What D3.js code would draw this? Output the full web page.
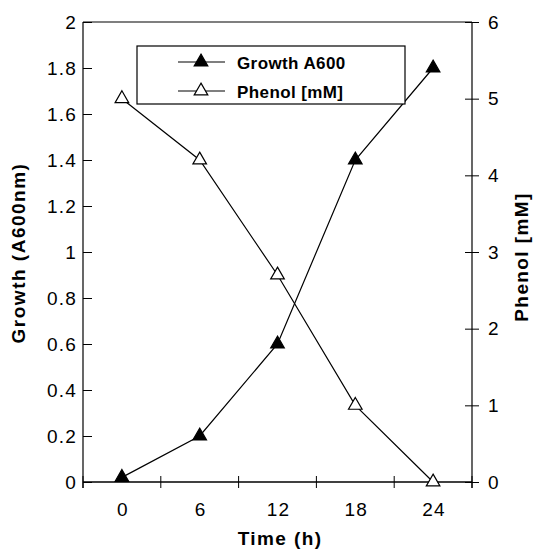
<!DOCTYPE html>
<html>
<head>
<meta charset="utf-8">
<script src="https://cdn.jsdelivr.net/npm/d3@7"></script>
<style>
body { margin: 0; background: #fff; }
svg { font-family: "Liberation Sans", Arial, sans-serif; }
</style>
</head>
<body>
<svg id="chart" width="535" height="551"></svg>
<script>
// data
var times = ['0', '6', '12', '18', '24'];
var growth = [0.02, 0.2, 0.6, 1.4, 1.8];
var phenol = [5.0, 4.2, 2.7, 1.0, 0];
var leftTicks = [0, 0.2, 0.4, 0.6, 0.8, 1, 1.2, 1.4, 1.6, 1.8, 2];
var rightTicks = [0, 1, 2, 3, 4, 5, 6];

var L = 83, R = 472, T = 22, B = 482;

var svg = d3.select('#chart');

var xs = d3.scaleBand().domain(times).range([L, R]);
var yl = d3.scaleLinear().domain([0, 2]).range([B, T]);
var yr = d3.scaleLinear().domain([0, 6]).range([B, T]);

var tickFont = function(sel) {
    sel.style('font-size', '19px').style('letter-spacing', '1.2px').attr('fill', '#000');
};
var titleFont = 'bold 19px "Liberation Sans", Arial, sans-serif';

// frame
svg.append('line').attr('x1', L).attr('x2', R).attr('y1', T).attr('y2', T)
    .attr('stroke', '#000').attr('stroke-width', 1.2);

// left axis
var gl = svg.append('g').attr('transform', 'translate(' + L + ',0)')
    .call(d3.axisLeft(yl).tickValues(leftTicks).tickSizeInner(-9).tickSizeOuter(0)
        .tickPadding(6).tickFormat(function(d) { return d; }));
gl.select('.domain').attr('d', 'M0,' + T + 'V' + (B + 6)).attr('stroke-width', 1.2);
gl.selectAll('text').call(tickFont);

// right axis, ticks crossing
var gr = svg.append('g').attr('transform', 'translate(' + R + ',0)')
    .call(d3.axisRight(yr).tickValues(rightTicks).tickSizeInner(7).tickSizeOuter(0)
        .tickPadding(9).tickFormat(function(d) { return d; }));
gr.selectAll('.tick line').attr('x1', -7).attr('x2', 7);
gr.select('.domain').attr('d', 'M0,' + T + 'V' + (B + 6)).attr('stroke-width', 1.2);
gr.selectAll('text').call(tickFont);

// bottom axis: ticks at band edges, labels at centres
var edges = times.map(function(t) { return xs(t); }).concat([R]);
var gb = svg.append('g');
gb.append('line').attr('x1', L).attr('x2', R).attr('y1', B).attr('y2', B)
    .attr('stroke', '#000').attr('stroke-width', 1.4);
gb.selectAll('line.tk').data(edges).enter().append('line').attr('class', 'tk')
    .attr('x1', function(d) { return d; }).attr('x2', function(d) { return d; })
    .attr('y1', B - 6).attr('y2', B + 6).attr('stroke', '#000');
gb.selectAll('text').data(times).enter().append('text')
    .attr('x', function(d) { return xs(d) + xs.bandwidth() / 2 + 1; })
    .attr('y', B + 34)
    .attr('text-anchor', 'middle')
    .call(tickFont)
    .text(function(d) { return d; });

// axis titles
svg.append('text')
    .attr('transform', 'translate(' + 25 + ',' + 253 + ') rotate(-90)')
    .attr('text-anchor', 'middle')
    .style('font', titleFont).style('letter-spacing', '1.5px')
    .text('Growth (A600nm)');

svg.append('text')
    .attr('transform', 'translate(' + 528 + ',' + 257 + ') rotate(-90)')
    .attr('text-anchor', 'middle')
    .style('font', titleFont).style('letter-spacing', '1.4px')
    .text('Phenol [mM]');

svg.append('text')
    .attr('x', 280).attr('y', 545)
    .attr('text-anchor', 'middle')
    .style('font', titleFont).style('letter-spacing', '1.4px')
    .text('Time (h)');

var tri = d3.symbol().type(d3.symbolTriangle).size(80);
var cx = function(d, i) { return xs(times[i]) + xs.bandwidth() / 2; };

// growth series
var lineG = d3.line().x(cx).y(function(d) { return yl(d); });
svg.append('path').datum(growth).attr('d', lineG)
    .attr('fill', 'none').attr('stroke', '#000').attr('stroke-width', 1.2);
svg.selectAll('path.g').data(growth).enter().append('path').attr('class', 'g')
    .attr('d', tri)
    .attr('transform', function(d, i) { return 'translate(' + cx(d, i) + ',' + yl(d) + ')'; })
    .attr('fill', '#000').attr('stroke', '#000').attr('stroke-width', 1.2);

// phenol series
var lineP = d3.line().x(cx).y(function(d) { return yr(d); });
svg.append('path').datum(phenol).attr('d', lineP)
    .attr('fill', 'none').attr('stroke', '#000').attr('stroke-width', 1.2);
svg.selectAll('path.p').data(phenol).enter().append('path').attr('class', 'p')
    .attr('d', tri)
    .attr('transform', function(d, i) { return 'translate(' + cx(d, i) + ',' + yr(d) + ')'; })
    .attr('fill', '#fff').attr('stroke', '#000').attr('stroke-width', 1.2);

// legend
var lg = svg.append('g');
lg.append('rect').attr('x', 137).attr('y', 46).attr('width', 268).attr('height', 58)
    .attr('fill', '#fff').attr('stroke', '#000').attr('stroke-width', 1.2);
var items = [{ name: 'Growth A600', fill: '#000' }, { name: 'Phenol [mM]', fill: '#fff' }];
items.forEach(function(it, i) {
    var y = 62 + i * 29;
    lg.append('line').attr('x1', 178).attr('x2', 225).attr('y1', y).attr('y2', y)
        .attr('stroke', '#000').attr('stroke-width', 1.2);
    lg.append('path').attr('d', tri).attr('transform', 'translate(201,' + y + ')')
        .attr('fill', it.fill).attr('stroke', '#000').attr('stroke-width', 1.2);
    lg.append('text').attr('x', 237).attr('y', y + 7)
        .style('font', 'bold 17px "Liberation Sans", Arial, sans-serif')
        .style('letter-spacing', '0.4px')
        .text(it.name);
});
</script>
</body>
</html>
